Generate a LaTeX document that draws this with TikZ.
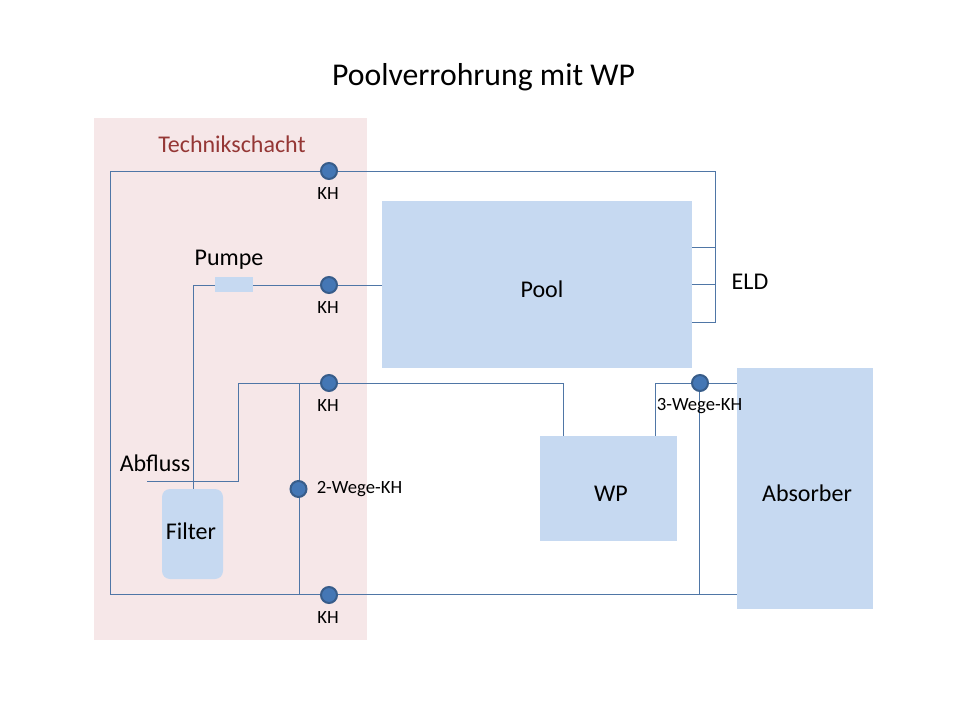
\documentclass[tikz,border=0pt]{standalone}
\usepackage{fontspec}
\setmainfont{Carlito}
\usepackage{tikz}
\usetikzlibrary{positioning}
\definecolor{boxblue}{HTML}{C6D9F1}
\definecolor{pipeblue}{HTML}{4F76A6}
\definecolor{valveblue}{HTML}{4477B5}
\definecolor{valveedge}{HTML}{385D8A}
\definecolor{shaftred}{HTML}{F6E7E8}
\definecolor{shafttext}{HTML}{953735}
\tikzset{
  box/.style={fill=boxblue, inner sep=0pt, font=\fontsize{18}{20}\selectfont},
  pipe/.style={draw=pipeblue, line width=0.75pt},
  valve/.style={circle, fill=valveblue, draw=valveedge, line width=1.5pt, inner sep=0pt, minimum size=12pt},
  lbl/.style={inner sep=0pt, font=\fontsize{18}{20}\selectfont},
  smalllbl/.style={inner sep=0pt, font=\fontsize{14}{16}\selectfont}
}
\newcommand{\kh}[3]{\node[valve] (#1) at (#2,#3) {}; \node[smalllbl] (#1l) at (#2-1,#3+23) {KH}}
\begin{document}
\begin{tikzpicture}[x=0.75pt, y=-0.75pt]
    \useasboundingbox (0,0) rectangle (960,720);
    \node[lbl, font=\fontsize{23.8}{28}\selectfont] (title) at (483.5,77) {Poolverrohrung mit WP};
    % Schacht
    \node[fill=shaftred, inner sep=0pt, minimum width=204.75pt, minimum height=391.5pt] (schacht) at (230.5,379) {};
    \node[lbl, text=shafttext] (schachtl) at (232,144) {Technikschacht};
    % Boxen
    \node[box, minimum width=232.5pt, minimum height=125.25pt] (pool) at (537,284.5) {};
    \node[lbl] (pooll) at (542,289) {Pool};
    \node[box, minimum width=102.75pt, minimum height=78.75pt] (wp) at (608.5,488.5) {};
    \node[lbl] (wpl) at (611,494) {WP};
    \node[box, minimum width=102pt, minimum height=180.75pt] (abs) at (805,488.5) {};
    \node[lbl] (absl) at (807,493) {Absorber};
    \node[box, rounded corners=6pt, minimum width=45.75pt, minimum height=67.5pt] (filter) at (192.5,534) {};
    \node[lbl] (filterl) at (191,531) {Filter};
    \node[box, minimum width=28.5pt, minimum height=11.25pt] (pumpe) at (234,285) {};
    \node[lbl] (pumpel) at (229,260) {Pumpe};
    \node[lbl] (abfluss) at (155,463) {Abfluss};
    \node[lbl] (eld) at (750,282) {ELD};
    % Leitungen
    \coordinate (tl) at (110.5,171.5);
    \coordinate (tr) at (715.5,171.5);
    \coordinate (bl) at (110.5,594.5);
    \coordinate (e1) at (715.5,247.5);
    \coordinate (e2) at (715.5,284.5);
    \coordinate (e3) at (715.5,322.5);
    \coordinate (pz) at (382,285.5);
    \coordinate (ab) at (147,481.5);
    \coordinate (ab1) at (238.5,481.5);
    \coordinate (ab2) at (238.5,383.5);
    \coordinate (wp1) at (563.5,383.5);
    \coordinate (wp2) at (655.5,383.5);
    \coordinate (pu) at (193.5,285.5);
    \coordinate (ko) at (299.5,383.5);
    \coordinate (ku) at (299.5,594.5);
    \coordinate (dw) at (699.5,383.5);
    \coordinate (du) at (699.5,594.5);
    \draw[pipe] (e3-|pool.east) -- (e3) -- (tr) -- (tl) -- (bl) -- (bl-|abs.west);
    \draw[pipe] (e1-|pool.east) -- (e1);
    \draw[pipe] (e2-|pool.east) -- (e2);
    \draw[pipe] (pz) -- (pz-|pumpe.east);
    \draw[pipe] (pz-|pumpe.west) -- (pu) -- (pu|-filter.north);
    \draw[pipe] (ab) -- (ab1) -- (ab2) -- (wp1) -- (wp1|-wp.north);
    \draw[pipe] (ko) -- (ku);
    \draw[pipe] (wp2|-wp.north) -- (wp2) -- (wp2-|abs.west);
    \draw[pipe] (dw) -- (du);
    % Kugelhaehne
    \kh{kha}{329}{171};
    \kh{khb}{329}{285};
    \kh{khc}{329}{383};
    \kh{khd}{329}{595};
    \node[valve] (zwei) at (298.5,489) {};
    \node[smalllbl, right=13.5pt of zwei.center] (zweil) {2-Wege-KH};
    \node[valve] (drei) at (700,383) {};
    \node[smalllbl] (dreil) at (699.5,406) {3-Wege-KH};
\end{tikzpicture}
\end{document}
